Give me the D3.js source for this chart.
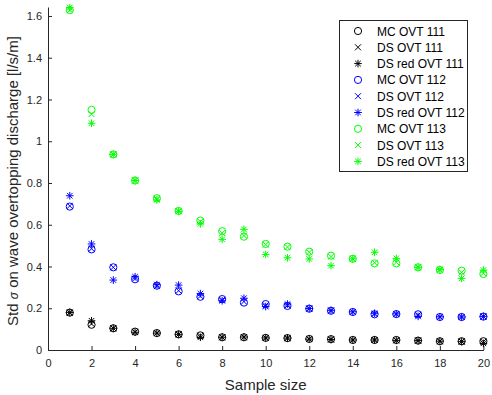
<!DOCTYPE html>
<html><head><meta charset="utf-8">
<script src="https://cdn.jsdelivr.net/npm/d3@7"></script>
<style>html,body{margin:0;padding:0;background:#fff;}svg{display:block;}</style>
</head><body>
<svg id="chart" width="492" height="395"></svg>
<script>
const sampleSizes = d3.range(1, 21);
const xTicks = [0,2,4,6,8,10,12,14,16,18,20];
const yTicks = [0,0.2,0.4,0.6,0.8,1,1.2,1.4,1.6];
const yTickLabels = ["0","0.2","0.4","0.6","0.8","1","1.2","1.4","1.6"];

const mc111    = [0.179,0.121,0.104,0.088,0.081,0.075,0.070,0.061,0.061,0.058,0.057,0.053,0.052,0.048,0.048,0.048,0.045,0.042,0.042,0.042];
const ds111    = [0.178,0.125,0.104,0.087,0.081,0.075,0.068,0.061,0.061,0.058,0.057,0.053,0.051,0.048,0.048,0.047,0.045,0.042,0.041,0.040];
const dsred111 = [0.180,0.140,0.104,0.085,0.081,0.075,0.061,0.061,0.062,0.058,0.057,0.052,0.050,0.048,0.048,0.046,0.045,0.042,0.040,0.032];
const mc112    = [0.687,0.482,0.396,0.339,0.308,0.281,0.255,0.244,0.227,0.220,0.211,0.198,0.188,0.182,0.171,0.172,0.171,0.158,0.158,0.160];
const ds112    = [0.690,0.485,0.396,0.342,0.306,0.284,0.258,0.240,0.232,0.214,0.213,0.198,0.188,0.182,0.172,0.172,0.168,0.158,0.158,0.160];
const dsred112 = [0.739,0.508,0.335,0.351,0.313,0.311,0.270,0.236,0.248,0.208,0.220,0.199,0.190,0.183,0.176,0.173,0.161,0.159,0.158,0.161];
const mc113    = [1.628,1.150,0.937,0.812,0.727,0.666,0.620,0.569,0.543,0.508,0.495,0.471,0.452,0.437,0.415,0.415,0.396,0.383,0.380,0.364];
const ds113    = [1.628,1.130,0.937,0.812,0.724,0.666,0.615,0.560,0.548,0.505,0.493,0.468,0.447,0.437,0.418,0.420,0.396,0.383,0.372,0.368];
const dsred113 = [1.640,1.086,0.937,0.812,0.719,0.664,0.604,0.530,0.578,0.458,0.442,0.436,0.404,0.437,0.468,0.439,0.396,0.386,0.343,0.383];

const seriesNames = ["MC OVT 111","DS OVT 111","DS red OVT 111","MC OVT 112","DS OVT 112","DS red OVT 112","MC OVT 113","DS OVT 113","DS red OVT 113"];
const seriesValues = [mc111, ds111, dsred111, mc112, ds112, dsred112, mc113, ds113, dsred113];
const seriesMarkers = ["o","x","*","o","x","*","o","x","*"];
const seriesColors = ["#000000","#000000","#000000","#0000ff","#0000ff","#0000ff","#00ff00","#00ff00","#00ff00"];

const svg = d3.select("#chart");
const font = "'Liberation Sans', Arial, sans-serif";
const x = d3.scaleLinear().domain([0,20]).range([48,483.4]);
const y = d3.scaleLinear().domain([0,1.643]).range([350,7]);

const axisColor = "#262626";
const gx = svg.append("g").attr("transform","translate(0,350)")
  .call(d3.axisBottom(x).tickValues(xTicks).tickSizeInner(-4).tickSizeOuter(0).tickPadding(9));
const gy = svg.append("g").attr("transform","translate(48,0)")
  .call(d3.axisLeft(y).tickValues(yTicks).tickFormat((d,i)=>yTickLabels[i]).tickSizeInner(-4).tickSizeOuter(0).tickPadding(6));
[gx,gy].forEach(g=>{
  g.selectAll("path").attr("stroke",axisColor).attr("stroke-width",1);
  g.selectAll("line").attr("stroke",axisColor);
  g.selectAll("text").attr("fill","#262626").style("font-family",font).style("font-size","11px");
});

svg.append("text").attr("x", x(10)).attr("y", 390).attr("text-anchor","middle")
  .style("font-family",font).style("font-size","15px").attr("fill","#262626").text("Sample size");
const yl = svg.append("text").attr("transform",`translate(18,181) rotate(-90)`).attr("text-anchor","middle")
  .style("font-family",font).style("font-size","15px").attr("fill","#262626");
yl.append("tspan").text("Std ");
yl.append("tspan").style("font-style","italic").style("font-size","12px").text("σ");
yl.append("tspan").text(" on wave overtopping discharge [l/s/m]");

function drawMarker(g, type, cx, cy, color){
  const s = 3.6;
  if(type==="o"){
    g.append("circle").attr("cx",cx).attr("cy",cy).attr("r",s).attr("fill","none").attr("stroke",color).attr("stroke-width",1);
  } else if(type==="x"){
    const d = 3;
    g.append("path").attr("d",`M${cx-d},${cy-d}L${cx+d},${cy+d}M${cx-d},${cy+d}L${cx+d},${cy-d}`).attr("stroke",color).attr("stroke-width",1).attr("fill","none");
  } else {
    const d = 3.8, e = 2.8;
    g.append("path").attr("d",`M${cx},${cy-d}L${cx},${cy+d}M${cx-d},${cy}L${cx+d},${cy}M${cx-e},${cy-e}L${cx+e},${cy+e}M${cx-e},${cy+e}L${cx+e},${cy-e}`).attr("stroke",color).attr("stroke-width",1).attr("fill","none");
  }
}

const plot = svg.append("g");
seriesValues.forEach((vals, si) => {
  const g = plot.append("g").attr("class","series");
  vals.forEach((v,i) => drawMarker(g, seriesMarkers[si], x(sampleSizes[i]), y(v), seriesColors[si]));
});

// legend
const lg = svg.append("g");
lg.append("rect").attr("x",339.5).attr("y",20.5).attr("width",128).attr("height",151).attr("fill","#fff").attr("stroke","#262626").attr("stroke-width",1);
seriesNames.forEach((name, i) => {
  const cy = 31 + i*16.3;
  drawMarker(lg, seriesMarkers[i], 358, cy, seriesColors[i]);
  lg.append("text").attr("x",377).attr("y",cy+4.5).style("font-family",font).style("font-size","12px").attr("fill","#000").text(name);
});
</script>
</body></html>
